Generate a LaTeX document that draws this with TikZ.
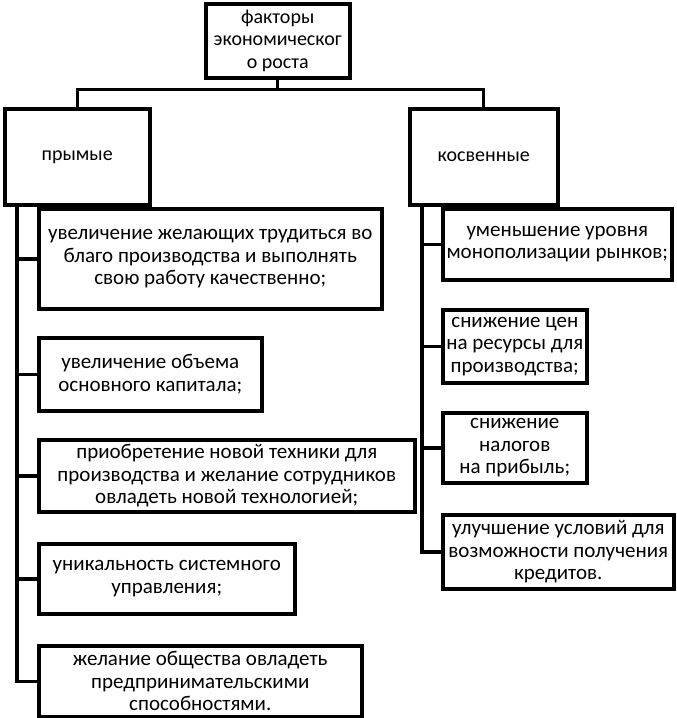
\documentclass[tikz,border=0pt]{standalone}
\usepackage{fontspec}
\setmainfont{Carlito}
\begin{document}
\begin{tikzpicture}[x=1pt,y=1pt,
  box/.style={draw, line width=3.5pt, anchor=north west, align=center, inner sep=0pt,
    font=\fontsize{21}{22.5}\selectfont},
  conn/.style={line width=3.5pt, line join=miter},
  thin/.style={line width=3pt}]
\useasboundingbox (0,0) rectangle (677,-718);
\node[box, minimum width=144, minimum height=74, font=\fontsize{20}{22.5}\selectfont] (top) at (204,-2) {факторы\\экономическог\\о роста};
\node[box, minimum width=145, minimum height=96, font=\fontsize{20}{22}\selectfont] (left) at (3,-107) {прымые};
\node[box, minimum width=148, minimum height=96, font=\fontsize{20}{22}\selectfont] (right) at (408,-107) {косвенные};
\coordinate (bar) at (276,-89);
\draw[thin] (top.south) -- (top.south |- bar);
\draw[thin] (left.north) |- (bar) -| (right.north);
% left column
\node[box, minimum width=343, minimum height=100] (l1) at (37,-207) {увеличение желающих трудиться во\\благо производства и выполнять\\свою работу качественно;};
\node[box, minimum width=223, minimum height=73] (l2) at (37,-336) {увеличение объема\\основного капитала;};
\node[box, minimum width=376, minimum height=72] (l3) at (37,-438) {приобретение новой техники для\\производства и желание сотрудников\\овладеть новой технологией;};
\node[box, minimum width=256, minimum height=70] (l4) at (37,-542) {уникальность системного\\управления;};
\node[box, minimum width=323, minimum height=71] (l5) at (37,-644) {желание общества овладеть\\предпринимательскими\\способностями.};
% right column
\node[box, minimum width=229, minimum height=71] (r1) at (441,-207) {уменьшение уровня\\монополизации рынков;};
\node[box, minimum width=144, minimum height=73] (r2) at (441,-308) {снижение цен\\на ресурсы для\\производства;};
\node[box, minimum width=144, minimum height=70] (r3) at (441,-411) {снижение\\налогов\\на прибыль;};
\node[box, minimum width=231, minimum height=74] (r4) at (441,-513) {улучшение условий для\\возможности получения\\кредитов.};
\foreach \n in {l1,l2,l3,l4,l5}
  \draw[conn] (\n.west) -| ([xshift=14pt]left.south west);
\foreach \n in {r1,r2,r3,r4}
  \draw[conn] (\n.west) -| ([xshift=14pt]right.south west);
\end{tikzpicture}
\end{document}
